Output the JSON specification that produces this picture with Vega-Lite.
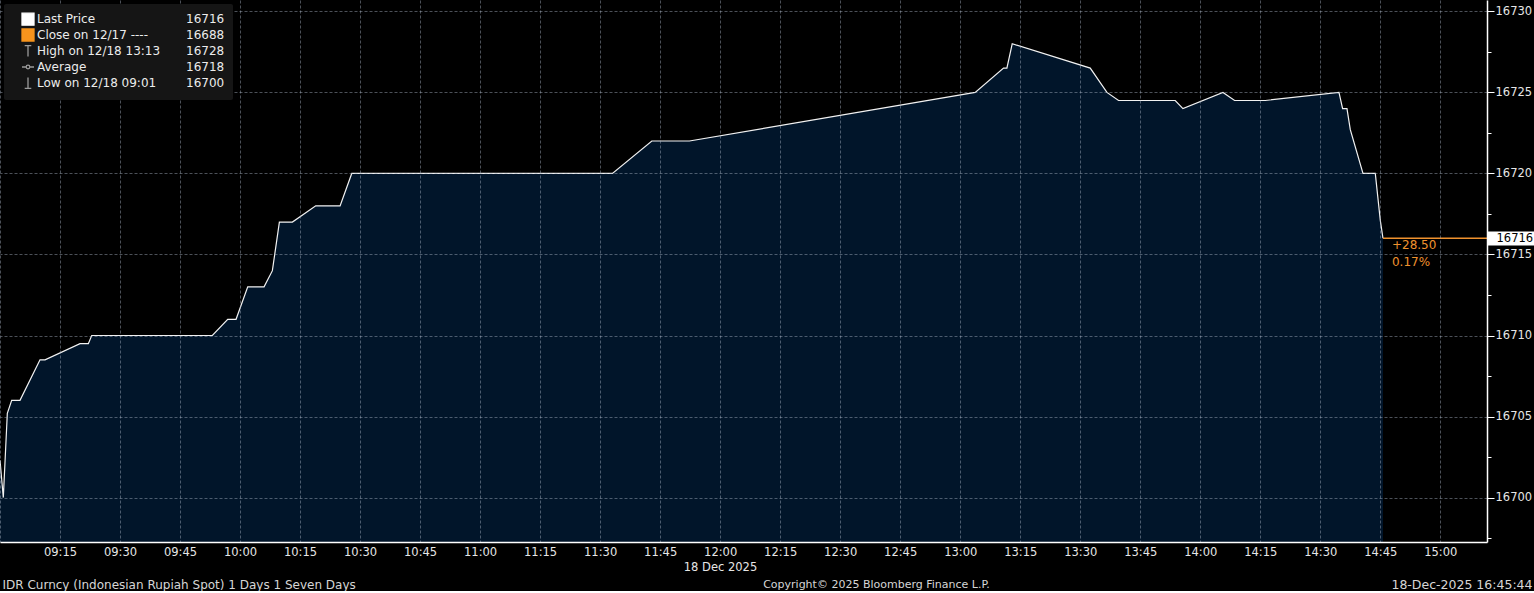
{
  "$schema": "https://vega.github.io/schema/vega-lite/v6.json",
  "width": 1487,
  "height": 542,
  "padding": 0,
  "background": "#000000",
  "config": {
    "view": {"stroke": null, "fill": "#000000"},
    "font": "DejaVu Sans"
  },
  "resolve": {"axis": {"y": "independent"}},
  "datasets": {
    "price": [
      {"minute": 540.0, "price": 16702.3},
      {"minute": 540.83, "price": 16700},
      {"minute": 541.83, "price": 16705.2},
      {"minute": 542.92, "price": 16706},
      {"minute": 545.0, "price": 16706},
      {"minute": 550.0, "price": 16708.5},
      {"minute": 551.25, "price": 16708.5},
      {"minute": 560.0, "price": 16709.5},
      {"minute": 562.08, "price": 16709.5},
      {"minute": 562.92, "price": 16710},
      {"minute": 593.08, "price": 16710},
      {"minute": 596.92, "price": 16711},
      {"minute": 599.0, "price": 16711},
      {"minute": 601.92, "price": 16713},
      {"minute": 606.0, "price": 16713},
      {"minute": 608.08, "price": 16714},
      {"minute": 609.83, "price": 16717},
      {"minute": 613.08, "price": 16717},
      {"minute": 618.92, "price": 16718},
      {"minute": 625.0, "price": 16718},
      {"minute": 627.92, "price": 16720},
      {"minute": 693.08, "price": 16720},
      {"minute": 702.92, "price": 16722},
      {"minute": 712.33, "price": 16722},
      {"minute": 783.75, "price": 16725},
      {"minute": 790.83, "price": 16726.5},
      {"minute": 791.67, "price": 16726.5},
      {"minute": 793.0, "price": 16728},
      {"minute": 812.5, "price": 16726.5},
      {"minute": 816.67, "price": 16725},
      {"minute": 819.58, "price": 16724.5},
      {"minute": 833.75, "price": 16724.5},
      {"minute": 835.67, "price": 16724},
      {"minute": 845.67, "price": 16725},
      {"minute": 848.58, "price": 16724.5},
      {"minute": 856.25, "price": 16724.5},
      {"minute": 874.67, "price": 16725},
      {"minute": 875.58, "price": 16724},
      {"minute": 876.67, "price": 16724},
      {"minute": 877.5, "price": 16722.7},
      {"minute": 880.67, "price": 16720},
      {"minute": 883.75, "price": 16720},
      {"minute": 885.0, "price": 16717.1},
      {"minute": 885.67, "price": 16716}
    ],
    "last": [
      {"minute": 885.67, "price": 16716, "change": "+28.50", "pct": "0.17%"}
    ],
    "legend": [
      {"entry": "Last Price"},
      {"entry": "Close on 12/17 ----"},
      {"entry": "High on 12/18 13:13"},
      {"entry": "Average"},
      {"entry": "Low on 12/18 09:01"},
      {"entry": "16716"},
      {"entry": "16688"},
      {"entry": "16728"},
      {"entry": "16718"},
      {"entry": "16700"}
    ]
  },
  "layer": [
    {
      "data": {"name": "price"},
      "mark": {
        "type": "area",
        "color": "#021e3c",
        "clip": true,
        "line": {"color": "#f2f2f2", "strokeWidth": 1.2}
      },
      "encoding": {
        "x": {
          "field": "minute",
          "type": "quantitative",
          "scale": {"domain": [540, 911.67], "nice": false, "zero": false},
          "axis": {
            "orient": "bottom",
            "title": "18 Dec 2025",
            "titleX": 720,
            "titleY": 25,
            "titleAlign": "center",
            "titleBaseline": "middle",
            "titleFont": "DejaVu Sans",
            "titleFontSize": 11.5,
            "titleFontWeight": "normal",
            "titleColor": "#e6e6e6",
            "values": [540, 555, 570, 585, 600, 615, 630, 645, 660, 675, 690, 705, 720, 735, 750, 765, 780, 795, 810, 825, 840, 855, 870, 885, 900],
            "labelExpr": "datum.value == 540 ? '' : (floor(datum.value / 60) < 10 ? '0' : '') + floor(datum.value / 60) + ':' + (datum.value % 60 < 10 ? '0' : '') + (datum.value % 60)",
            "labelPadding": 4,
            "labelFont": "DejaVu Sans",
            "labelFontSize": 11.5,
            "labelColor": "#e6e6e6",
            "labelOverlap": false,
            "labelFlush": false,
            "ticks": false,
            "domainColor": "#ffffff",
            "domainWidth": 1.5,
            "grid": true,
            "gridColor": "#a8b4c4",
            "gridOpacity": 0.45,
            "gridDash": [3, 2],
            "zindex": 1
          }
        },
        "y": {
          "field": "price",
          "type": "quantitative",
          "scale": {"domain": [16697.26, 16730.7], "nice": false, "zero": false},
          "axis": {
            "orient": "right",
            "title": "Copyright\u00a9 2025 Bloomberg Finance L.P.",
            "titleAngle": 0,
            "titleX": -611,
            "titleY": 584,
            "titleAlign": "center",
            "titleBaseline": "middle",
            "titleFont": "DejaVu Sans",
            "titleFontSize": 11,
            "titleFontWeight": "normal",
            "titleColor": "#d6d6d6",
            "values": [16700, 16705, 16710, 16715, 16720, 16725, 16730],
            "format": "d",
            "labelColor": "#e6e6e6",
            "labelPadding": 1,
            "tickSize": 7,
            "tickColor": "#ffffff",
            "labelFont": "DejaVu Sans",
            "labelFontSize": 11.5,
            "labelOverlap": false,
            "labelFlush": false,
            "domainColor": "#ffffff",
            "domainWidth": 1.5,
            "grid": true,
            "gridColor": "#a8b4c4",
            "gridOpacity": 0.45,
            "gridDash": [3, 2],
            "zindex": 1
          }
        }
      }
    },
    {
      "data": {"name": "last"},
      "mark": {"type": "rule", "color": "#f0922e", "strokeWidth": 1.3},
      "encoding": {
        "x": {"field": "minute", "type": "quantitative"},
        "x2": {"value": "width"},
        "y": {
          "field": "price",
          "type": "quantitative",
          "axis": {
            "orient": "right",
            "title": "18-Dec-2025 16:45:44",
            "titleAngle": 0,
            "titleX": 45,
            "titleY": 584,
            "titleAlign": "right",
            "titleBaseline": "middle",
            "titleFont": "DejaVu Sans",
            "titleFontSize": 12.5,
            "titleFontWeight": "normal",
            "titleColor": "#d6d6d6",
            "values": [16716],
            "format": "d",
            "domain": false,
            "grid": false,
            "tickSize": 47,
            "tickWidth": 14,
            "tickColor": "#ffffff",
            "labelPadding": -38,
            "labelColor": "#000000",
            "labelFont": "DejaVu Sans",
            "labelFontSize": 11.5,
            "labelOverlap": false,
            "labelFlush": false,
            "zindex": 2
          }
        }
      }
    },
    {
      "data": {"name": "last"},
      "mark": {"type": "text", "align": "left", "baseline": "top", "dx": 9, "dy": 2, "color": "#f0922e", "font": "DejaVu Sans", "fontSize": 12},
      "encoding": {
        "x": {"field": "minute", "type": "quantitative"},
        "y": {
          "field": "price",
          "type": "quantitative",
          "axis": {
            "orient": "right",
            "title": "IDR Curncy (Indonesian Rupiah Spot) 1 Days 1 Seven Days",
            "titleAngle": 0,
            "titleX": -1485,
            "titleY": 584,
            "titleAlign": "left",
            "titleBaseline": "middle",
            "titleFont": "DejaVu Sans",
            "titleFontSize": 12,
            "titleFontWeight": "normal",
            "titleColor": "#d6d6d6",
            "values": [16697.5, 16702.5, 16707.5, 16712.5, 16717.5, 16722.5, 16727.5],
            "labels": false,
            "domain": false,
            "grid": false,
            "tickSize": 4,
            "tickColor": "#ffffff",
            "zindex": 1
          }
        },
        "text": {"field": "change"}
      }
    },
    {
      "data": {"name": "last"},
      "mark": {"type": "text", "align": "left", "baseline": "top", "dx": 9, "dy": 19, "color": "#f0922e", "font": "DejaVu Sans", "fontSize": 12},
      "encoding": {
        "x": {"field": "minute", "type": "quantitative"},
        "y": {"field": "price", "type": "quantitative", "axis": null},
        "text": {"field": "pct"}
      }
    },
    {
      "data": {"name": "legend"},
      "mark": {"type": "point", "filled": true, "opacity": 0},
      "encoding": {
        "fill": {
          "field": "entry",
          "type": "nominal",
          "scale": {
            "domain": ["Last Price", "Close on 12/17 ----", "High on 12/18 13:13", "Average", "Low on 12/18 09:01", "16716", "16688", "16728", "16718", "16700"],
            "range": ["#ffffff", "#f7941d", "transparent", "transparent", "transparent", "transparent", "transparent", "transparent", "transparent", "transparent"]
          },
          "legend": {
            "title": null, "columns": 2, "orient": "top-left", "offset": 4,
            "fillColor": "#151515", "cornerRadius": 2, "padding": 8,
            "labelColor": "#ececec", "labelFont": "DejaVu Sans", "labelFontSize": 12, "labelLimit": 400,
            "symbolSize": 144, "symbolStrokeWidth": 1.3, "symbolOffset": 9, "symbolOpacity": 1,
            "labelOffset": 2, "rowPadding": -2, "columnPadding": -53, "zindex": 2
          }
        },
        "stroke": {
          "field": "entry",
          "type": "nominal",
          "scale": {
            "domain": ["Last Price", "Close on 12/17 ----", "High on 12/18 13:13", "Average", "Low on 12/18 09:01", "16716", "16688", "16728", "16718", "16700"],
            "range": ["#ffffff", "#f7941d", "#9a9a9a", "#9a9a9a", "#9a9a9a", "transparent", "transparent", "transparent", "transparent", "transparent"]
          },
          "legend": {
            "title": null, "columns": 2, "orient": "top-left", "offset": 4,
            "fillColor": "#151515", "cornerRadius": 2, "padding": 8,
            "labelColor": "#ececec", "labelFont": "DejaVu Sans", "labelFontSize": 12, "labelLimit": 400,
            "symbolSize": 144, "symbolStrokeWidth": 1.3, "symbolOffset": 9, "symbolOpacity": 1,
            "labelOffset": 2, "rowPadding": -2, "columnPadding": -53, "zindex": 2
          }
        },
        "shape": {
          "field": "entry",
          "type": "nominal",
          "scale": {
            "domain": ["Last Price", "Close on 12/17 ----", "High on 12/18 13:13", "Average", "Low on 12/18 09:01", "16716", "16688", "16728", "16718", "16700"],
            "range": ["square", "square", "M-0.55,-0.9H0.55M0,-0.9V0.9", "M-1,0H-0.3M0.3,0H1M-0.3,0A0.3,0.3 0 1 0 0.3,0A0.3,0.3 0 1 0 -0.3,0", "M0,-0.9V0.9M-0.55,0.9H0.55", "square", "square", "square", "square", "square"]
          },
          "legend": {
            "title": null, "columns": 2, "orient": "top-left", "offset": 4,
            "fillColor": "#151515", "cornerRadius": 2, "padding": 8,
            "labelColor": "#ececec", "labelFont": "DejaVu Sans", "labelFontSize": 12, "labelLimit": 400,
            "symbolSize": 144, "symbolStrokeWidth": 1.3, "symbolOffset": 9, "symbolOpacity": 1,
            "labelOffset": 2, "rowPadding": -2, "columnPadding": -53, "zindex": 2
          }
        }
      }
    }
  ]
}
